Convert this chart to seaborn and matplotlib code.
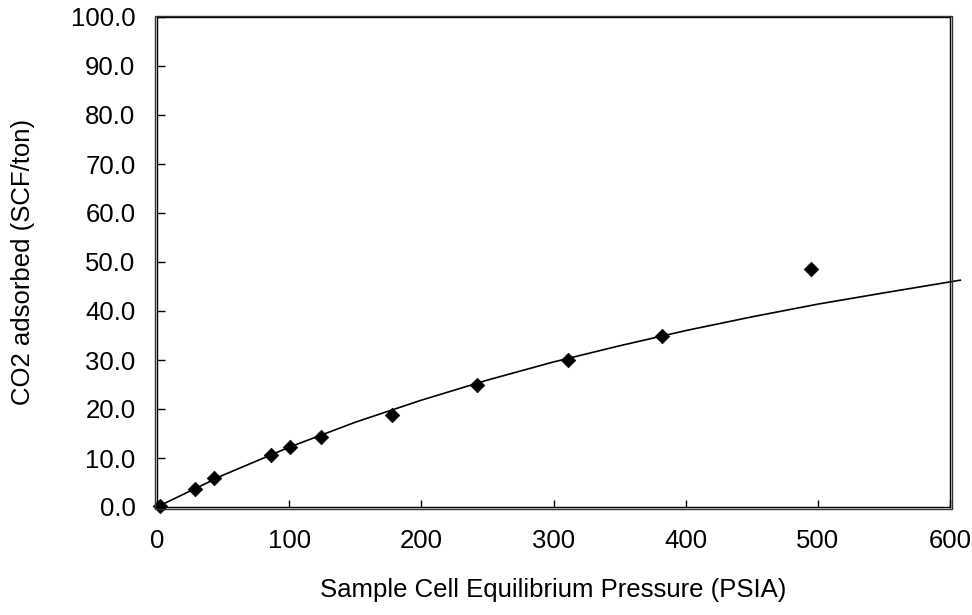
import matplotlib
matplotlib.use("Agg")
import matplotlib.pyplot as plt
import seaborn as sns
import pandas as pd
from matplotlib.patches import Rectangle

# Measured data points
pressure = [2, 29, 43, 86, 101, 124, 178, 242, 311, 382, 495]
adsorbed = [0.3, 3.7, 6.0, 10.7, 12.2, 14.3, 18.7, 24.9, 29.9, 34.9, 48.5]

# Fitted curve
curve_p = [0, 50, 100, 150, 200, 250, 300, 350, 400, 450, 500, 550, 608]
curve_v = [0.0, 6.5, 12.2, 17.3, 21.8, 25.9, 29.6, 32.9, 36.0, 38.8, 41.4, 43.7, 46.3]

x_ticks = [0, 100, 200, 300, 400, 500, 600]
y_ticks = [0, 10, 20, 30, 40, 50, 60, 70, 80, 90, 100]

sns.set_theme(style="white")
plt.rcParams['font.family'] = ['Liberation Sans', 'DejaVu Sans']

W, H = 972, 615
fig = plt.figure(figsize=(W / 100, H / 100), dpi=100)
L, R, T, B = 157, 950, 17, 507
ax = fig.add_axes([L / W, 1 - B / H, (R - L) / W, (B - T) / H])

pts = pd.DataFrame({"p": pressure, "v": adsorbed})
fit = pd.DataFrame({"p": curve_p, "v": curve_v})

sns.lineplot(data=fit, x="p", y="v", ax=ax, color="black", linewidth=1.2,
             sort=False, clip_on=False, zorder=3)
sns.scatterplot(data=pts, x="p", y="v", ax=ax, marker="D", s=55, color="black",
                edgecolor="black", linewidth=0.5, clip_on=False, zorder=4)

ax.set_xlim(0, 600)
ax.set_ylim(0, 100)
ax.set_xticks(x_ticks)
ax.set_xticklabels([str(t) for t in x_ticks])
ax.set_yticks(y_ticks)
ax.set_yticklabels([f"{t:.1f}" for t in y_ticks])

FS = 18.5
ax.tick_params(axis="x", direction="in", length=5, width=1, color="black",
               labelsize=FS, labelcolor="black", pad=16, bottom=True, top=False)
ax.tick_params(axis="y", direction="in", length=6, width=1, color="black",
               labelsize=FS, labelcolor="black", pad=15.5, left=True, right=False)
for s in ax.spines.values():
    s.set_visible(True)
    s.set_color("black")
    s.set_linewidth(1.0)

ax.set_xlabel("Sample Cell Equilibrium Pressure (PSIA)", fontsize=FS,
              color="black", labelpad=18)
ax.set_ylabel("CO2 adsorbed (SCF/ton)", fontsize=FS, color="black", labelpad=26)

# outer frame line (double-border look)
fig.patches.append(Rectangle(((L - 2) / W, 1 - (B + 1.5) / H), (R - L + 4) / W,
                             (B - T + 3) / H, transform=fig.transFigure,
                             fill=False, edgecolor="#333333", linewidth=1.0))

fig.savefig("out.png", dpi=100)
